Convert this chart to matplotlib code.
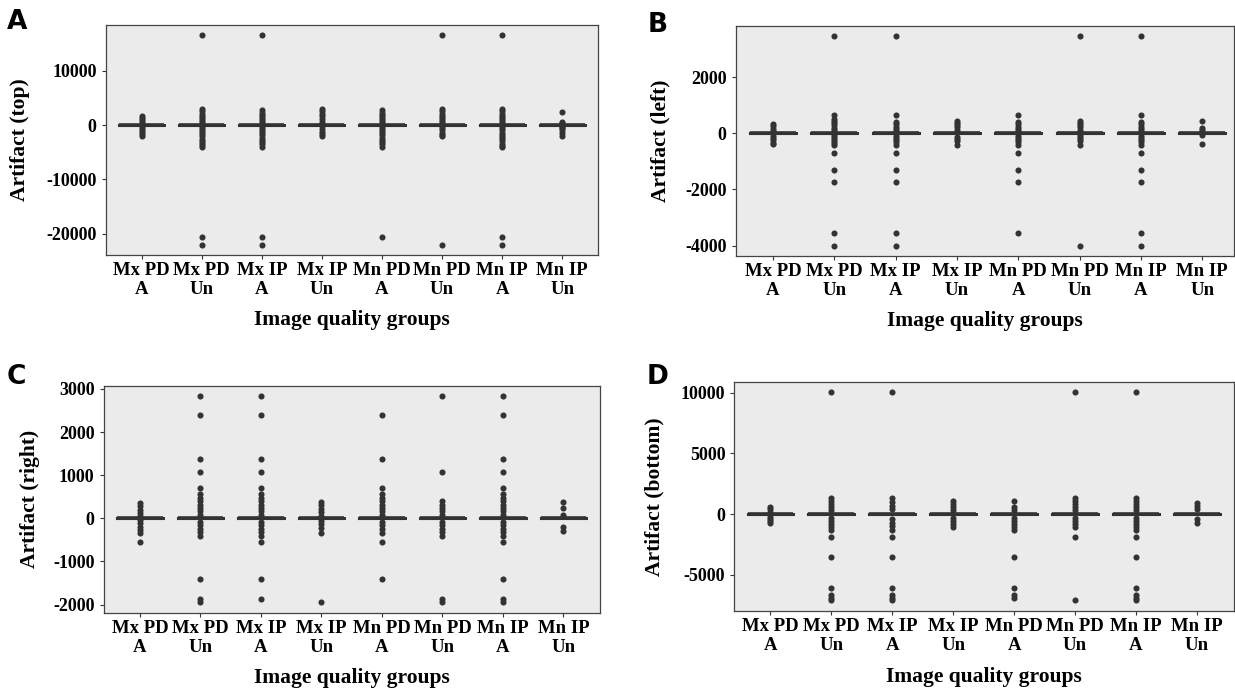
import matplotlib
matplotlib.use("Agg")
import matplotlib.pyplot as plt

plt.rcParams['font.family'] = ['Liberation Serif', 'DejaVu Serif']
plt.rcParams['axes.unicode_minus'] = False

groups = ["Mx PD\nA", "Mx PD\nUn", "Mx IP\nA", "Mx IP\nUn",
          "Mn PD\nA", "Mn PD\nUn", "Mn IP\nA", "Mn IP\nUn"]

# most observations in every group are exactly zero
n_zero = 120

# non-zero values per group, panel A (top)
top_vals = [
    [1700, 1300, 900, 500, 200, -200, -500, -900, -1300, -1700, -2000],
    [16500, 2900, 2500, 2100, 1700, 1300, 900, 500, 200, -200, -500, -900, -1300,
     -1700, -2100, -2500, -2900, -3300, -3700, -4100, -20600, -22000],
    [16500, 2700, 2300, 1900, 1500, 1100, 700, 300, -300, -700, -1100, -1500, -1900,
     -2300, -2700, -3100, -3500, -4100, -20600, -22000],
    [2900, 2500, 2100, 1600, 1100, 600, 200, -200, -700, -1200, -1700, -2100],
    [2700, 2300, 1900, 1500, 1100, 700, 300, -300, -700, -1100, -1500, -1900, -2300,
     -2700, -3100, -3500, -4100, -20600],
    [16500, 2900, 2500, 2100, 1700, 1300, 900, 500, 200, -200, -600, -1000, -1400,
     -1800, -2100, -22000],
    [16500, 2900, 2500, 2100, 1700, 1300, 900, 500, 200, -200, -600, -1000, -1400,
     -1800, -2200, -2600, -3000, -3400, -3800, -4100, -20600, -22000],
    [2400, 600, 300, -300, -600, -1000, -1500, -2100],
]

# panel B (left)
left_vals = [
    [330, 250, 170, 90, -90, -170, -250, -330, -390],
    [3450, 650, 520, 440, 360, 280, 200, 120, 50, -50, -120, -200, -280, -360, -420,
     -700, -1300, -1720, -3570, -4000],
    [3450, 650, 400, 320, 240, 160, 80, -80, -160, -240, -320, -400,
     -700, -1300, -1720, -3570, -4000],
    [450, 370, 290, 210, 130, -130, -210, -290, -400],
    [650, 400, 320, 240, 160, 80, -80, -160, -240, -320, -400,
     -700, -1300, -1720, -3570],
    [3450, 450, 370, 290, 210, 130, 50, -50, -130, -210, -290, -400, -4000],
    [3450, 650, 400, 320, 240, 160, 80, -80, -160, -240, -320, -400,
     -700, -1300, -1720, -3570, -4000],
    [440, 200, 120, 50, -50, -390],
]

# panel C (right)
right_vals = [
    [350, 280, 200, 120, 50, -50, -120, -200, -280, -350, -560],
    [2830, 2400, 1380, 1070, 700, 560, 480, 400, 320, 240, 160, 80, -80, -160, -240,
     -320, -400, -1400, -1880, -1950],
    [2830, 2400, 1380, 1070, 700, 560, 480, 400, 320, 240, 160, 80, -80, -160, -240,
     -320, -400, -560, -1400, -1880],
    [380, 300, 220, 140, 60, -60, -140, -220, -330, -1950],
    [2400, 1380, 700, 560, 480, 400, 320, 240, 160, 80, -80, -160, -240, -350,
     -560, -1400],
    [2830, 1070, 400, 320, 240, 160, 80, -80, -160, -240, -320, -400, -1880, -1950],
    [2830, 2400, 1380, 1070, 700, 560, 480, 400, 320, 240, 160, 80, -80, -160, -240,
     -320, -400, -560, -1400, -1880, -1950],
    [380, 250, 80, -200, -300],
]

# panel D (bottom)
bottom_vals = [
    [600, 400, 200, -200, -400, -600, -750],
    [10050, 1300, 1050, 800, 550, 300, -300, -550, -800, -1050, -1300, -1900, -3500,
     -6100, -6700, -6900, -7100],
    [10050, 1300, 1000, 700, 400, -400, -700, -1000, -1300, -1900, -3500,
     -6100, -6700, -6900, -7100],
    [1100, 850, 600, 350, -350, -600, -850, -1100],
    [1100, 600, 350, -300, -550, -800, -1050, -1300, -3500, -6100, -6700, -6900],
    [10050, 1300, 1050, 800, 550, 300, -300, -550, -800, -1100, -1900, -7100],
    [10050, 1300, 1050, 800, 550, 300, -300, -550, -800, -1050, -1300, -1900, -3500,
     -6100, -6700, -6900, -7100],
    [900, 650, 400, -400, -700],
]

top_ticks = [-20000, -10000, 0, 10000]
left_ticks = [-4000, -2000, 0, 2000]
right_ticks = [-2000, -1000, 0, 1000, 2000, 3000]
bottom_ticks = [-5000, 0, 5000, 10000]

W, H = 1235, 691
DARK = '#333333'


def px_rect(l, t, r, b):
    return [l / W, (H - b) / H, (r - l) / W, (b - t) / H]


def draw_panel(fig, rect, values, ticks, ylabel, letter, letter_xy, xlim, ylab_x, xlab_y):
    ax = fig.add_axes(px_rect(*rect))
    data = [[0] * n_zero + v for v in values]
    ax.boxplot(data, positions=range(1, 9), widths=0.75, whis=1.5,
               showcaps=False,
               boxprops=dict(color=DARK, linewidth=2.2),
               whiskerprops=dict(color=DARK, linewidth=1.5),
               medianprops=dict(color=DARK, linewidth=2.6, solid_capstyle='butt'),
               flierprops=dict(marker='o', markerfacecolor=DARK, markeredgecolor='none',
                               markersize=4.4))
    ax.set_facecolor('#EBEBEB')
    ax.set_xlim(*xlim)
    ax.margins(y=0.05)
    ax.set_yticks(ticks)
    ax.set_xticks(range(1, 9))
    ax.set_xticklabels(groups, fontsize=13.5, fontweight='bold', linespacing=1.15)
    for lab in ax.get_yticklabels():
        lab.set_fontsize(13)
        lab.set_fontweight('bold')
    ax.tick_params(axis='both', colors=DARK, labelcolor='black', length=3, width=0.8)
    ax.tick_params(axis='x', pad=2)
    ax.tick_params(axis='y', pad=3.5)
    for s in ax.spines.values():
        s.set_color('#444444')
        s.set_linewidth(0.9)
    ax.set_ylabel(ylabel, fontsize=15.5, fontweight='bold')
    ax.set_xlabel('Image quality groups', fontsize=15.5, fontweight='bold')
    ax.yaxis.set_label_coords(ylab_x, 0.5)
    ax.xaxis.set_label_coords(0.5, xlab_y)
    fig.text(letter_xy[0] / W, 1 - letter_xy[1] / H, letter, fontsize=19,
             fontweight='bold', family='DejaVu Sans', ha='left', va='top')
    return ax


fig = plt.figure(figsize=(W / 100, H / 100), dpi=100)

draw_panel(fig, (105.6, 25, 598.3, 255), top_vals, top_ticks, 'Artifact (top)',
           'A', (7, 9), (0.4, 8.6), -0.153, -0.24)
draw_panel(fig, (735.6, 26, 1233.5, 256), left_vals, left_ticks, 'Artifact (left)',
           'B', (648, 12), (0.39, 8.51), -0.131, -0.237)
draw_panel(fig, (103.6, 386, 599.8, 612.7), right_vals, right_ticks, 'Artifact (right)',
           'C', (7, 364), (0.4, 8.6), -0.129, -0.242)
draw_panel(fig, (734.4, 381.7, 1233.5, 610.7), bottom_vals, bottom_ticks, 'Artifact (bottom)',
           'D', (647, 364), (0.41, 8.6), -0.140, -0.247)

fig.savefig('out.png', dpi=100)
